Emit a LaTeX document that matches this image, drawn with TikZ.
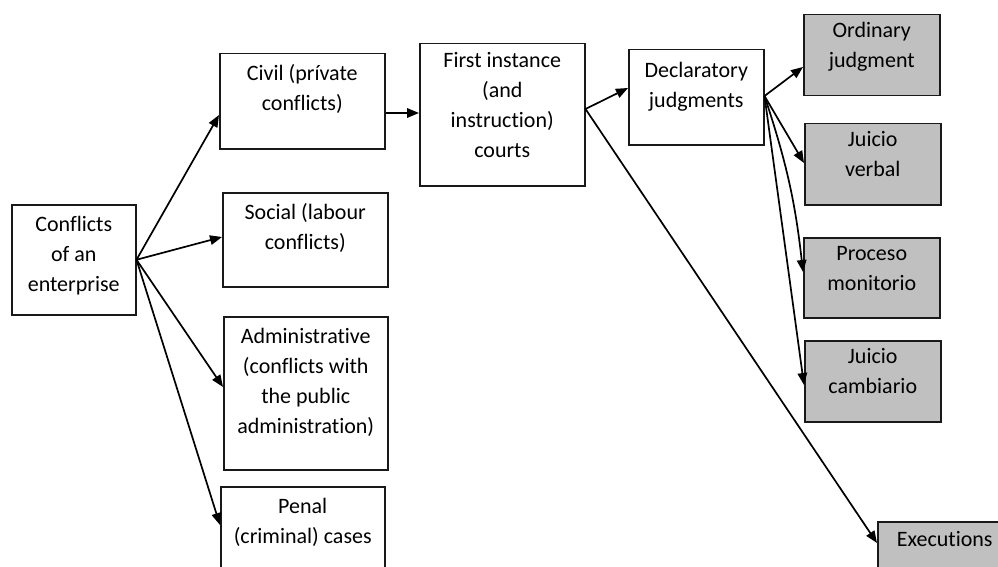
\documentclass[tikz,border=0pt]{standalone}
\usepackage{fontspec}
\setmainfont[Ligatures={NoCommon}]{Carlito}
\usetikzlibrary{arrows.meta,calc}
\definecolor{boxgray}{HTML}{C0C0C0}
\tikzset{
  boxnode/.style={draw=black!90, line width=1.5pt, inner sep=0pt, anchor=north west},
  graybox/.style={boxnode, fill=boxgray},
  boxtext/.style={anchor=north, inner sep=0pt, align=center, font=\fontsize{22}{30}\selectfont},
  conn/.style={line width=1.7pt, -{Triangle[length=12pt,width=9.5pt]}}
}
\newcommand{\fl}{\rule{0pt}{16pt}}
\begin{document}
\begin{tikzpicture}[x=1pt,y=-1pt]
\useasboundingbox (0,0) rectangle (998,567);
\clip (0,0) rectangle (998,567);
% boxes
\node[boxnode, minimum width=124pt, minimum height=110pt] (conf) at (11,204) {};
\node[boxnode, minimum width=165pt, minimum height=95pt] (civ) at (219,53) {};
\node[boxnode, minimum width=165pt, minimum height=94pt] (soc) at (222,192) {};
\node[boxnode, minimum width=164pt, minimum height=153pt] (adm) at (223,316) {};
\node[boxnode, minimum width=164pt, minimum height=120pt] (pen) at (220,486) {};
\node[boxnode, minimum width=165pt, minimum height=142pt] (first) at (419,43) {};
\node[boxnode, minimum width=135pt, minimum height=95pt] (decl) at (628,49) {};
\node[graybox, minimum width=136pt, minimum height=81pt] (ord) at (803,14) {};
\node[graybox, minimum width=136pt, minimum height=81pt] (jv) at (804,123) {};
\node[graybox, minimum width=136pt, minimum height=80pt] (pm) at (803,237) {};
\node[graybox, minimum width=136pt, minimum height=81pt] (jc) at (804,340) {};
\node[graybox, minimum width=134pt, minimum height=80pt] (exe) at (877,521) {};
% texts
\node[boxtext] (tconf) at ($(conf.north)+(0,11)$) {\fl Conflicts\\of an\\enterprise};
\node[boxtext] (tciv) at ($(civ.north)+(0,11)$) {\fl Civil (prívate\\conflicts)};
\node[boxtext] (tsoc) at ($(soc.north)+(0,11)$) {\fl Social (labour\\conflicts)};
\node[boxtext] (tadm) at ($(adm.north)+(0,11)$) {\fl Administrative\\(conflicts with\\the public\\administration)};
\node[boxtext] (tpen) at ($(pen.north)+(0,11)$) {\fl Penal\\(criminal) cases};
\node[boxtext] (tfirst) at ($(first.north)+(0,8)$) {\fl First instance\\(and\\instruction)\\courts};
\node[boxtext] (tdecl) at ($(decl.north)+(0,12)$) {\fl Declaratory\\judgments};
\node[boxtext] (tord) at ($(ord.north)+(0,7)$) {\fl Ordinary\\judgment};
\node[boxtext] (tjv) at ($(jv.north)+(0,7)$) {\fl Juicio\\verbal};
\node[boxtext] (tpm) at ($(pm.north)+(0,7)$) {\fl Proceso\\monitorio};
\node[boxtext] (tjc) at ($(jc.north)+(0,7)$) {\fl Juicio\\cambiario};
\node[boxtext] (texe) at ($(exe.north)+(0,9)$) {\fl Executions};
% connectors
\coordinate (cs) at (conf.east);
\draw[conn] (cs) -- ($(civ.north west)+(0,62)$);
\draw[conn] (cs) -- ($(soc.north west)+(0,45)$);
\draw[conn] (cs) -- ($(adm.north west)+(0,71)$);
\draw[conn] (cs) -- ($(pen.north west)+(0,39)$);
\draw[conn] ($(civ.north east)+(0,60)$) -- ($(first.north west)+(0,70)$);
\coordinate (fs) at ($(first.north east)+(0,66)$);
\draw[conn] (fs) -- ($(decl.north west)+(0,39)$);
\draw[conn] (fs) -- ($(exe.north west)+(0,22)$);
\coordinate (ds) at ($(decl.north east)+(0,47)$);
\draw[conn] (ds) -- ($(ord.north west)+(0,53)$);
\draw[conn] (ds) -- ($(jv.north west)+(0,40)$);
\draw[conn] (ds) to[bend left=6] ($(pm.north west)+(0,35)$);
\draw[conn] (ds) -- ($(jc.north west)+(0,45)$);
\end{tikzpicture}
\end{document}
